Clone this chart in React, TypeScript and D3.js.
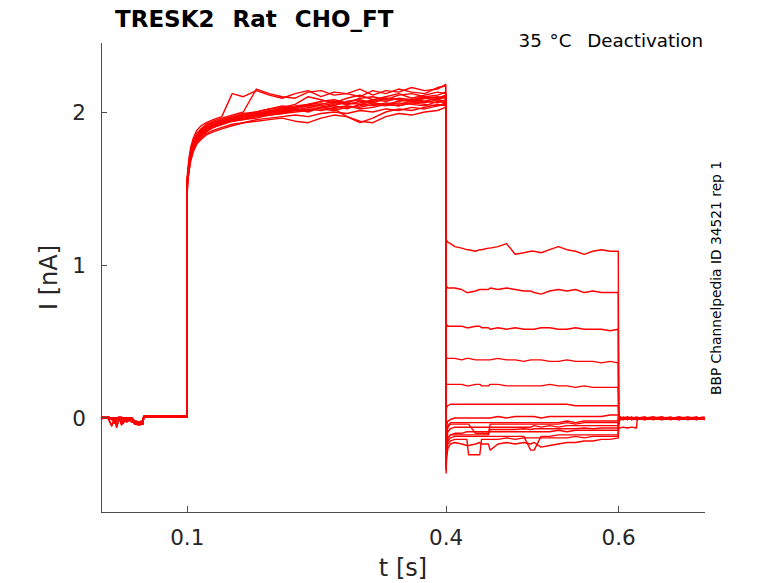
import React from "react";
import * as d3 from "d3";

const W = 778;
const H = 583;
const left = 101;
const right = 705;
const top = 43;
const bottom = 512;

const xTicks = [0.1, 0.4, 0.6];
const yTicks = [0, 1, 2];

// time grids (s) for each protocol segment
const tPre = [0, 0.004, 0.008, 0.0124, 0.0162, 0.0181, 0.021, 0.0239, 0.0255, 0.0298, 0.0355, 0.039, 0.044, 0.0485, 0.0495, 0.055, 0.062, 0.07, 0.078, 0.086, 0.094, 0.0998];
const tAct = [0.1, 0.1002, 0.102, 0.104, 0.107, 0.111, 0.116, 0.122, 0.13, 0.14, 0.152, 0.165, 0.18, 0.195, 0.21, 0.225, 0.24, 0.255, 0.27, 0.285, 0.3, 0.315, 0.33, 0.345, 0.36, 0.375, 0.39, 0.3995];
const tDeact = [0.4, 0.4005, 0.402, 0.405, 0.41, 0.418, 0.424, 0.426, 0.434, 0.439, 0.441, 0.449, 0.451, 0.46, 0.47, 0.48, 0.49, 0.498, 0.502, 0.51, 0.52, 0.53, 0.54, 0.55, 0.56, 0.57, 0.58, 0.59, 0.5995];
const tPost = [0.6, 0.6008, 0.602, 0.605, 0.61, 0.615, 0.6205, 0.6215, 0.63, 0.64, 0.65, 0.66, 0.67, 0.68, 0.69, 0.6995];

// baseline holding current (nA), a few recorded patterns
const preRows = [
  [0.0, 0.005, 0.0, -0.05, 0.0, -0.01, 0.0, -0.045, 0.0, 0.0, 0.0, -0.025, -0.03, -0.03, 0.01, 0.012, 0.008, 0.01, 0.012, 0.008, 0.01, 0.01],
  [0.005, 0.0, 0.005, 0.0, -0.035, 0.0, 0.005, 0.0, -0.035, 0.0, -0.025, -0.03, -0.035, -0.03, 0.008, 0.01, 0.012, 0.008, 0.01, 0.012, 0.008, 0.009],
  [0.0, 0.0, 0.005, 0.0, 0.0, -0.06, 0.0, 0.0, 0.0, -0.025, 0.0, -0.035, -0.04, -0.04, 0.005, 0.008, 0.006, 0.009, 0.006, 0.008, 0.006, 0.008],
  [-0.005, 0.0, 0.0, -0.01, 0.0, 0.0, -0.005, 0.0, 0.0, 0.0, 0.0, -0.02, -0.025, -0.02, 0.012, 0.014, 0.01, 0.013, 0.01, 0.012, 0.014, 0.012],
  [0.005, 0.005, 0.0, 0.0, 0.0, -0.005, 0.0, 0.005, -0.01, 0.0, 0.0, -0.04, -0.045, -0.04, 0.004, 0.006, 0.004, 0.006, 0.004, 0.006, 0.004, 0.005],
];
const preIdx = [0, 1, 2, 3, 4, 0, 1, 2, 3, 4, 0, 1, 2, 3, 4];

// activation step
const actRows = [
  [1.52, 1.6, 1.7, 1.77, 1.83, 1.88, 1.91, 1.93, 1.95, 1.97, 2.12, 2.1, 2.14, 2.11, 2.09, 2.12, 2.14, 2.1, 2.13, 2.12, 2.15, 2.11, 2.14, 2.13, 2.16, 2.14, 2.15, 2.18],
  [1.5, 1.57, 1.68, 1.75, 1.81, 1.86, 1.89, 1.92, 1.94, 1.96, 1.98, 2.0, 2.15, 2.12, 2.1, 2.09, 2.13, 2.14, 2.11, 2.12, 2.1, 2.14, 2.12, 2.15, 2.13, 2.12, 2.16, 2.17],
  [1.48, 1.55, 1.64, 1.71, 1.77, 1.82, 1.86, 1.88, 1.91, 1.93, 1.95, 1.96, 1.98, 2.0, 2.03, 2.05, 2.1, 2.08, 2.06, 2.09, 2.11, 2.08, 2.1, 2.12, 2.09, 2.11, 2.13, 2.12],
  [1.53, 1.58, 1.67, 1.74, 1.8, 1.85, 1.88, 1.91, 1.93, 1.95, 1.97, 1.99, 2.0, 2.02, 2.04, 2.03, 2.05, 2.07, 2.08, 2.06, 2.09, 2.1, 2.08, 2.11, 2.12, 2.1, 2.11, 2.13],
  [1.46, 1.52, 1.61, 1.68, 1.74, 1.79, 1.82, 1.85, 1.87, 1.89, 1.91, 1.93, 1.94, 1.95, 1.96, 1.94, 1.93, 1.96, 1.98, 1.97, 1.94, 1.93, 1.97, 1.99, 1.98, 2.0, 2.01, 2.03],
  [1.5, 1.56, 1.65, 1.72, 1.78, 1.83, 1.86, 1.89, 1.91, 1.93, 1.95, 1.97, 1.98, 2.0, 2.01, 2.02, 2.0, 2.03, 2.04, 2.02, 2.05, 2.04, 2.06, 2.05, 2.07, 2.06, 2.08, 2.07],
  [1.49, 1.55, 1.63, 1.7, 1.76, 1.81, 1.84, 1.87, 1.9, 1.92, 1.94, 1.95, 1.97, 1.98, 1.99, 2.01, 2.02, 2.01, 2.03, 2.04, 2.02, 2.03, 2.05, 2.04, 2.06, 2.05, 2.04, 2.06],
  [1.51, 1.57, 1.66, 1.73, 1.79, 1.84, 1.88, 1.9, 1.92, 1.94, 1.96, 1.98, 1.99, 2.01, 2.02, 2.04, 2.05, 2.06, 2.04, 2.07, 2.08, 2.06, 2.09, 2.08, 2.07, 2.09, 2.1, 2.09],
  [1.47, 1.53, 1.62, 1.69, 1.75, 1.8, 1.83, 1.86, 1.88, 1.9, 1.92, 1.93, 1.95, 1.96, 1.97, 1.98, 1.97, 1.99, 2.0, 1.99, 2.01, 2.0, 2.02, 2.01, 2.03, 2.02, 2.04, 2.05],
  [1.52, 1.58, 1.67, 1.74, 1.8, 1.85, 1.88, 1.91, 1.93, 1.95, 1.97, 1.98, 2.0, 2.02, 2.03, 2.02, 2.04, 2.05, 2.07, 2.05, 2.06, 2.08, 2.07, 2.09, 2.08, 2.1, 2.09, 2.11],
  [1.5, 1.55, 1.64, 1.71, 1.77, 1.82, 1.85, 1.88, 1.9, 1.92, 1.94, 1.96, 1.97, 1.99, 2.0, 2.01, 2.03, 2.02, 2.01, 2.03, 2.04, 2.06, 2.05, 2.04, 2.06, 2.07, 2.06, 2.08],
  [1.48, 1.54, 1.63, 1.7, 1.76, 1.81, 1.85, 1.88, 1.9, 1.92, 1.94, 1.95, 1.96, 1.98, 1.99, 2.0, 2.01, 2.03, 2.02, 2.04, 2.03, 2.05, 2.04, 2.06, 2.05, 2.04, 2.07, 2.06],
  [1.49, 1.56, 1.65, 1.72, 1.78, 1.83, 1.86, 1.89, 1.91, 1.93, 1.95, 1.96, 1.98, 1.99, 2.0, 2.02, 2.01, 2.03, 2.02, 1.97, 1.93, 1.96, 2.0, 2.02, 2.01, 2.03, 2.05, 2.04],
  [1.51, 1.57, 1.66, 1.73, 1.79, 1.84, 1.87, 1.9, 1.92, 1.94, 1.96, 1.97, 1.99, 2.0, 2.02, 2.03, 2.05, 2.04, 2.06, 2.05, 2.07, 2.06, 2.05, 2.07, 2.08, 2.07, 2.09, 2.1],
  [1.5, 1.56, 1.65, 1.72, 1.78, 1.83, 1.87, 1.89, 1.92, 1.94, 1.95, 1.97, 1.98, 2.0, 2.01, 2.03, 2.04, 2.03, 2.05, 2.06, 2.05, 2.07, 2.09, 2.08, 2.07, 2.09, 2.08, 2.1],
];

// deactivation steps
const deactRows = [
  [1.17, 1.16, 1.15, 1.14, 1.12, 1.11, 1.1, 1.1, 1.09, 1.1, 1.1, 1.11, 1.11, 1.12, 1.14, 1.07, 1.08, 1.09, 1.09, 1.08, 1.1, 1.12, 1.1, 1.09, 1.07, 1.09, 1.1, 1.09, 1.09],
  [0.87, 0.86, 0.85, 0.85, 0.85, 0.84, 0.82, 0.82, 0.83, 0.84, 0.84, 0.84, 0.85, 0.84, 0.85, 0.84, 0.83, 0.83, 0.82, 0.81, 0.83, 0.84, 0.83, 0.84, 0.82, 0.83, 0.82, 0.82, 0.82],
  [0.62, 0.61, 0.6, 0.6, 0.6, 0.6, 0.59, 0.59, 0.6, 0.6, 0.59, 0.59, 0.58, 0.59, 0.58, 0.59, 0.58, 0.58, 0.58, 0.59, 0.59, 0.58, 0.58, 0.59, 0.58, 0.58, 0.58, 0.57, 0.58],
  [0.4, 0.39, 0.39, 0.39, 0.39, 0.38, 0.39, 0.39, 0.38, 0.38, 0.38, 0.38, 0.38, 0.39, 0.38, 0.38, 0.37, 0.38, 0.38, 0.38, 0.37, 0.37, 0.38, 0.37, 0.37, 0.37, 0.36, 0.37, 0.36],
  [0.23, 0.22, 0.22, 0.22, 0.22, 0.22, 0.21, 0.21, 0.22, 0.22, 0.21, 0.21, 0.22, 0.22, 0.21, 0.21, 0.21, 0.21, 0.21, 0.21, 0.22, 0.21, 0.21, 0.2, 0.21, 0.2, 0.2, 0.2, 0.2],
  [0.04, 0.07, 0.08, 0.09, 0.09, 0.09, 0.09, 0.09, 0.09, 0.09, 0.09, 0.09, 0.09, 0.09, 0.09, 0.09, 0.09, 0.09, 0.09, 0.09, 0.09, 0.09, 0.09, 0.08, 0.08, 0.08, 0.08, 0.08, 0.08],
  [-0.12, -0.05, -0.02, -0.01, 0.0, 0.0, 0.0, 0.0, 0.0, 0.0, 0.0, 0.0, 0.0, 0.01, 0.0, 0.01, 0.01, 0.01, 0.01, 0.0, 0.01, 0.01, 0.01, 0.01, 0.01, 0.01, 0.01, 0.02, 0.02],
  [-0.25, -0.12, -0.06, -0.04, -0.04, -0.04, -0.04, -0.04, -0.1, -0.1, -0.1, -0.1, -0.04, -0.04, -0.04, -0.04, -0.04, -0.04, -0.04, -0.04, -0.04, -0.04, -0.03, -0.04, -0.03, -0.03, -0.03, -0.03, -0.03],
  [-0.28, -0.16, -0.09, -0.07, -0.06, -0.06, -0.06, -0.06, -0.06, -0.06, -0.06, -0.06, -0.06, -0.06, -0.06, -0.06, -0.06, -0.06, -0.05, -0.06, -0.05, -0.06, -0.05, -0.05, -0.05, -0.05, -0.05, -0.05, -0.05],
  [-0.3, -0.18, -0.13, -0.11, -0.11, -0.11, -0.11, -0.11, -0.11, -0.11, -0.11, -0.11, -0.075, -0.075, -0.075, -0.075, -0.07, -0.075, -0.07, -0.07, -0.07, -0.07, -0.07, -0.07, -0.065, -0.07, -0.065, -0.065, -0.065],
  [-0.31, -0.2, -0.13, -0.11, -0.1, -0.1, -0.09, -0.09, -0.09, -0.09, -0.09, -0.09, -0.09, -0.09, -0.09, -0.09, -0.09, -0.09, -0.09, -0.09, -0.09, -0.08, -0.09, -0.08, -0.08, -0.08, -0.08, -0.08, -0.08],
  [-0.33, -0.22, -0.15, -0.13, -0.12, -0.12, -0.12, -0.12, -0.12, -0.12, -0.12, -0.12, -0.12, -0.12, -0.12, -0.12, -0.12, -0.21, -0.21, -0.12, -0.12, -0.11, -0.11, -0.11, -0.11, -0.11, -0.11, -0.11, -0.11],
  [-0.34, -0.24, -0.17, -0.15, -0.14, -0.14, -0.14, -0.24, -0.24, -0.24, -0.14, -0.14, -0.14, -0.14, -0.13, -0.14, -0.13, -0.13, -0.13, -0.13, -0.13, -0.13, -0.13, -0.12, -0.13, -0.12, -0.12, -0.12, -0.12],
  [-0.36, -0.26, -0.2, -0.17, -0.16, -0.17, -0.18, -0.18, -0.17, -0.16, -0.17, -0.17, -0.21, -0.17, -0.16, -0.17, -0.16, -0.17, -0.16, -0.19, -0.18, -0.17, -0.16, -0.16, -0.15, -0.15, -0.14, -0.14, -0.13],
  [-0.22, -0.1, -0.05, -0.03, -0.03, -0.03, -0.03, -0.03, -0.03, -0.03, -0.03, -0.03, -0.03, -0.03, -0.03, -0.03, -0.03, -0.03, -0.03, -0.03, -0.03, -0.03, -0.02, -0.03, -0.02, -0.02, -0.02, -0.02, -0.02],
];

// return to holding potential
const postRows = [
  [-0.05, -0.02, -0.01, -0.005, 0.0, -0.01, 0.0, -0.005, 0.005, -0.01, 0.0, -0.005, 0.005, -0.01, 0.0, -0.005],
  [-0.04, -0.015, -0.005, 0.0, -0.01, 0.0, -0.005, 0.0, -0.01, 0.0, -0.005, 0.005, -0.01, 0.0, -0.005, 0.0],
  [-0.03, -0.01, 0.0, -0.01, 0.005, -0.005, 0.0, -0.01, 0.0, -0.005, 0.005, -0.01, 0.0, -0.005, 0.005, -0.01],
  [-0.03, -0.01, -0.005, 0.005, -0.005, 0.0, -0.01, 0.0, 0.005, -0.01, 0.0, -0.005, 0.0, 0.005, -0.01, 0.0],
  [-0.02, 0.0, -0.01, 0.0, -0.005, 0.005, -0.005, 0.0, -0.01, 0.0, 0.005, -0.005, -0.01, 0.0, 0.0, -0.005],
  [-0.01, 0.0, -0.005, -0.01, 0.0, -0.005, 0.005, -0.01, 0.0, -0.005, -0.01, 0.0, 0.005, -0.01, -0.005, 0.0],
  [0.02, 0.01, 0.0, -0.005, 0.005, -0.01, 0.0, -0.005, 0.0, 0.005, -0.01, 0.0, -0.005, 0.0, 0.005, -0.01],
  [0.03, 0.01, 0.005, -0.01, 0.0, -0.005, 0.0, 0.005, -0.01, 0.0, -0.005, 0.0, -0.01, 0.005, 0.0, -0.005],
  [0.03, 0.015, 0.0, 0.0, -0.01, 0.0, -0.005, 0.0, 0.005, -0.01, 0.0, -0.005, 0.005, 0.0, -0.01, 0.0],
  [0.03, 0.01, -0.005, 0.005, 0.0, -0.01, 0.0, -0.005, 0.0, 0.005, -0.01, 0.0, 0.0, -0.005, 0.005, -0.01],
  [0.03, 0.01, 0.0, -0.005, 0.0, 0.005, -0.01, 0.0, -0.005, 0.0, 0.005, -0.01, 0.0, -0.005, 0.0, 0.005],
  [0.03, 0.005, 0.0, -0.01, 0.005, 0.0, -0.005, 0.0, -0.01, 0.005, 0.0, -0.005, 0.005, -0.01, 0.0, -0.005],
  [0.03, 0.01, 0.005, 0.0, -0.01, 0.0, 0.005, -0.01, 0.0, -0.005, 0.0, 0.005, -0.01, 0.0, -0.005, 0.0],
  [-0.06, -0.065, -0.065, -0.06, -0.065, -0.06, -0.065, -0.01, 0.0, -0.005, 0.005, -0.01, 0.0, -0.005, 0.0, 0.005],
  [0.02, 0.005, -0.005, 0.0, 0.005, -0.01, 0.0, 0.0, -0.005, 0.005, -0.01, 0.0, -0.005, 0.005, -0.01, 0.0],
];

const zip = (ts: number[], vs: number[]) => ts.map((t, i) => [t, vs[i]] as [number, number]);

const sweeps = actRows.map((_, k) => [
  ...zip(tPre, preRows[preIdx[k]]),
  ...zip(tAct, actRows[k]),
  ...zip(tDeact, deactRows[k]),
  ...zip(tPost, postRows[k]),
]);

export default function App() {
  const x = d3.scaleLinear().domain([0, 0.7]).range([left, right]);
  const y = d3.scaleLinear().domain([-0.6144, 2.451]).range([bottom, top]);
  const line = d3
    .line<[number, number]>()
    .x((d) => x(d[0]))
    .y((d) => y(d[1]));

  const font = "DejaVu Sans, sans-serif";
  const axisColor = "#4d4d4d";
  const textColor = "#262626";

  return (
    <svg
      width={W}
      height={H}
      style={{ position: "absolute", left: 0, top: 0, background: "#fff" }}
      fontFamily={font}
    >
      {/* traces */}
      <g fill="none" stroke="#ff0000" strokeWidth={1.4} strokeLinejoin="round">
        {sweeps.map((s, i) => (
          <path key={i} d={line(s) || ""} />
        ))}
      </g>

      {/* axes */}
      <g stroke={axisColor} strokeWidth={1} shapeRendering="crispEdges">
        <line x1={left} x2={left} y1={top} y2={bottom} />
        <line x1={left} x2={right} y1={bottom} y2={bottom} />
        {xTicks.map((t) => (
          <line key={t} x1={x(t)} x2={x(t)} y1={bottom} y2={bottom - 6} />
        ))}
        {yTicks.map((t) => (
          <line key={t} x1={left} x2={left + 6} y1={y(t)} y2={y(t)} />
        ))}
      </g>
      <g fill={textColor} fontSize={21.5}>
        {xTicks.map((t) => (
          <text key={t} x={x(t)} y={bottom + 33} textAnchor="middle">
            {String(t)}
          </text>
        ))}
        {yTicks.map((t) => (
          <text key={t} x={left - 15} y={y(t) + 8} textAnchor="end">
            {String(t)}
          </text>
        ))}
      </g>
      <text x={(left + right) / 2} y={576} textAnchor="middle" fontSize={24} fill={textColor}>
        t [s]
      </text>
      <text
        transform={`translate(57,${(top + bottom) / 2}) rotate(-90)`}
        textAnchor="middle"
        fontSize={24}
        fill={textColor}
      >
        I [nA]
      </text>

      <text
        x={115}
        y={27}
        fontSize={23}
        fontWeight="bold"
        fill="#000"
        style={{ whiteSpace: "pre", wordSpacing: "1px" }}
      >
        TRESK2  Rat  CHO_FT
      </text>
      <text
        x={703}
        y={47}
        fontSize={18.3}
        textAnchor="end"
        fill="#000"
        style={{ whiteSpace: "pre", wordSpacing: "2px" }}
      >
        35 °C  Deactivation
      </text>
      <text
        transform={`translate(721,278) rotate(-90)`}
        textAnchor="middle"
        fontSize={13.8}
        fill="#000"
      >
        BBP Channelpedia ID 34521 rep 1
      </text>
    </svg>
  );
}
